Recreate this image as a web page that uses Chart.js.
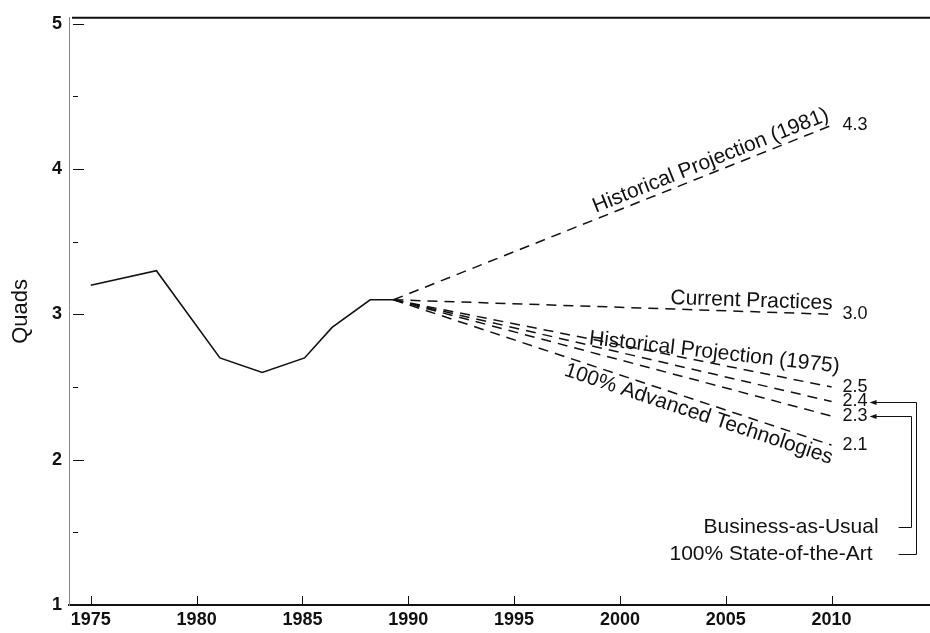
<!DOCTYPE html>
<html>
<head>
<meta charset="utf-8">
<script src="https://cdn.jsdelivr.net/npm/chart.js@4"></script>
<style>
  html, body { margin: 0; padding: 0; background: #fff; }
  #wrap { width: 930px; height: 633px; }
</style>
</head>
<body>
<div id="wrap"><canvas id="chart"></canvas></div>
<script>
// Historical energy use, quads
const histYears = [1975, 1978.1, 1981.1, 1983.1, 1985.1, 1986.4, 1988.2, 1989.3];
const histValues = [3.2, 3.3, 2.7, 2.6, 2.7, 2.91, 3.1, 3.1];

// Scenario projections, all running from the last historical point to 2010
const projStartYear = 1989.3;
const projStartValue = 3.1;
const projEndYear = 2010;
const projNames = [
  'Historical Projection (1981)',
  'Current Practices',
  'Historical Projection (1975)',
  'Business-as-Usual',
  '100% State-of-the-Art',
  '100% Advanced Technologies'
];
const projEndValues = [4.3, 3.0, 2.5, 2.4, 2.3, 2.1];

// Axis ticks
const xTicks = [1975, 1980, 1985, 1990, 1995, 2000, 2005, 2010];
const yTicks = [1, 2, 3, 4, 5];
const yMinorTicks = [1.5, 2.5, 3.5, 4.5];

const FONT = '"Liberation Sans", Arial, Helvetica, sans-serif';
const INK = '#111';

const datasets = [{
  label: 'Historical',
  data: histYears.map((x, i) => ({ x: x, y: histValues[i] })),
  borderColor: INK,
  borderWidth: 1.6,
  pointRadius: 0,
  tension: 0
}];
projEndValues.forEach((v, i) => {
  datasets.push({
    label: projNames[i],
    data: [{ x: projStartYear, y: projStartValue }, { x: projEndYear, y: v }],
    borderColor: INK,
    borderWidth: 1.5,
    borderDash: [10, 7],
    pointRadius: 0
  });
});

// Labels written along the projection lines
const lineLabels = [
  { text: 'Historical Projection (1981)', value: 4.3, at: 2004.5, gap: 6 },
  { text: 'Current Practices', value: 3.0, at: 2006.2, gap: 5 },
  { text: 'Historical Projection (1975)', value: 2.5, at: 2004.4, gap: 5, angle: 6.5 },
  { text: '100% Advanced Technologies', value: 2.1, at: 2003.9, gap: 2, below: true }
];

const annotations = {
  id: 'annotations',
  afterDatasetsDraw(chart) {
    const { ctx, chartArea: area } = chart;
    const xs = chart.scales.x, ys = chart.scales.y;
    ctx.save();

    // top frame line
    ctx.strokeStyle = INK;
    ctx.lineWidth = 2;
    ctx.beginPath();
    ctx.moveTo(area.left + 3, area.top);
    ctx.lineTo(area.right, area.top);
    ctx.stroke();

    // inward tick marks
    ctx.lineWidth = 1;
    ctx.beginPath();
    xTicks.forEach(t => {
      const x = Math.round(xs.getPixelForValue(t)) + 0.5;
      ctx.moveTo(x, area.bottom);
      ctx.lineTo(x, area.bottom - 9);
    });
    yTicks.concat(yMinorTicks).forEach(t => {
      const y = Math.round(ys.getPixelForValue(t)) + 0.5;
      const len = Number.isInteger(t) ? 11 : 5;
      ctx.moveTo(area.left + 4, y);
      ctx.lineTo(area.left + 4 + len, y);
    });
    ctx.stroke();

    // end values
    const endX = xs.getPixelForValue(projEndYear);
    ctx.fillStyle = INK;
    ctx.font = '18px ' + FONT;
    ctx.textAlign = 'left';
    ctx.textBaseline = 'middle';
    projEndValues.forEach(v => {
      ctx.fillText(v.toFixed(1), endX + 11, ys.getPixelForValue(v));
    });

    // names along the lines
    const x0 = xs.getPixelForValue(projStartYear);
    const y0 = ys.getPixelForValue(projStartValue);
    ctx.font = '21px ' + FONT;
    ctx.textAlign = 'center';
    lineLabels.forEach(l => {
      const x1 = endX, y1 = ys.getPixelForValue(l.value);
      const ang = l.angle != null ? l.angle * Math.PI / 180 : Math.atan2(y1 - y0, x1 - x0);
      const t = (l.at - projStartYear) / (projEndYear - projStartYear);
      ctx.save();
      ctx.translate(x0 + (x1 - x0) * t, y0 + (y1 - y0) * t);
      ctx.rotate(ang);
      ctx.textBaseline = l.below ? 'top' : 'alphabetic';
      ctx.fillText(l.text, 0, l.below ? l.gap : -l.gap);
      ctx.restore();
    });

    // scenario names linked back to their end values
    const notes = [
      { name: 'Business-as-Usual', from: 2.3, row: 1.54, elbow: 79, right: 47 },
      { name: '100% State-of-the-Art', from: 2.4, row: 1.35, elbow: 84, right: 41 }
    ];
    ctx.textAlign = 'right';
    ctx.textBaseline = 'middle';
    notes.forEach(n => {
      const yFrom = Math.round(ys.getPixelForValue(n.from)) + 0.5;
      const yRow = Math.round(ys.getPixelForValue(n.row)) + 0.5;
      const ex = Math.round(endX + n.elbow) + 0.5;
      const tip = endX + 38;
      ctx.fillText(n.name, endX + n.right, yRow);
      ctx.lineWidth = 1;
      ctx.beginPath();
      ctx.moveTo(tip + 5, yFrom);
      ctx.lineTo(ex, yFrom);
      ctx.lineTo(ex, yRow);
      ctx.lineTo(endX + 67, yRow);
      ctx.stroke();
      ctx.beginPath();
      ctx.moveTo(tip, yFrom);
      ctx.lineTo(tip + 7, yFrom - 2.5);
      ctx.lineTo(tip + 7, yFrom + 2.5);
      ctx.closePath();
      ctx.fill();
    });

    ctx.restore();
  }
};

new Chart(document.getElementById('chart'), {
  type: 'line',
  data: { datasets: datasets },
  plugins: [annotations],
  options: {
    responsive: true,
    maintainAspectRatio: false,
    animation: false,
    layout: { padding: { top: 13, right: 0, bottom: 0, left: 0 } },
    plugins: { legend: { display: false }, tooltip: { enabled: false } },
    scales: {
      x: {
        type: 'linear',
        min: 1973.97,
        max: 2014.65,
        afterFit: s => { s.height = 28; },
        grid: { display: false, drawTicks: false },
        border: { display: true, color: INK, width: 2 },
        ticks: {
          stepSize: 5,
          includeBounds: false,
          padding: 4,
          color: INK,
          font: { family: FONT, size: 18, weight: 'bold' },
          callback: v => String(v)
        }
      },
      y: {
        min: 1,
        max: 5.04,
        afterFit: s => { s.width = 69; },
        grid: { display: false, drawTicks: false },
        border: { display: true, color: '#888', width: 1, dash: [3, 2] },
        title: {
          display: true,
          text: 'Quads',
          color: INK,
          font: { family: FONT, size: 22 },
          padding: { top: 8 }
        },
        ticks: {
          stepSize: 1,
          includeBounds: false,
          padding: 7,
          color: INK,
          font: { family: FONT, size: 18, weight: 'bold' },
          callback: v => String(v)
        }
      }
    }
  }
});
</script>
</body>
</html>
